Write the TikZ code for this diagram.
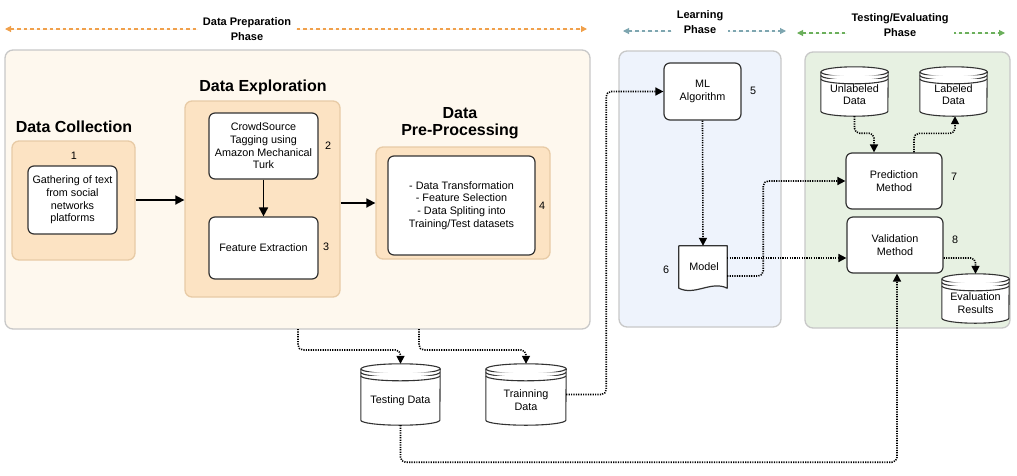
\documentclass[tikz,border=0pt]{standalone}
\usepackage{fontspec}
\setmainfont{Liberation Sans}
\usetikzlibrary{arrows.meta,calc}
\definecolor{prepfill}{HTML}{FEF8EE}
\definecolor{greyb}{HTML}{C8C8C8}
\definecolor{peach}{HTML}{FCE3C3}
\definecolor{peachb}{HTML}{E8CBA6}
\definecolor{learnfill}{HTML}{EEF3FC}
\definecolor{testfill}{HTML}{E7F1E2}
\definecolor{boxb}{HTML}{333333}
\definecolor{phO}{HTML}{F0A04B}
\definecolor{phB}{HTML}{7EA6B0}
\definecolor{phG}{HTML}{6BAF5B}
\newcommand\txtfont{\fontsize{10.8}{12.6}\selectfont}
\newcommand\headfont{\fontsize{16}{17}\selectfont\bfseries}
\newcommand\phasefont{\fontsize{11}{15}\selectfont\bfseries}
\newcommand\dbdraw[3]{%
  \filldraw[dbline] ([yshift=-#3]#1.north west) -- ([yshift=#3]#1.south west)
    arc[start angle=180,end angle=360,x radius=#2,y radius=#3]
    -- ([yshift=-#3]#1.north east)
    arc[start angle=0,end angle=180,x radius=#2,y radius=#3] -- cycle;
  \draw[dbline] ([yshift=-#3]#1.north west) arc[start angle=180,end angle=360,x radius=#2,y radius=#3];
  \draw[dbline] ([yshift=-#3-3.5pt]#1.north west) arc[start angle=180,end angle=360,x radius=#2,y radius=#3];
  \draw[dbline] ([yshift=-#3-7pt]#1.north west) arc[start angle=180,end angle=360,x radius=#2,y radius=#3];
}
\tikzset{
  sz/.style 2 args={minimum width=#1pt, minimum height=#2pt},
  bgbox/.style={draw=greyb, line width=1.3pt, rounded corners=8pt, inner sep=0pt},
  peachbox/.style={draw=peachb, fill=peach, line width=1.3pt, rounded corners=7pt, inner sep=0pt},
  wbox/.style={draw=boxb, fill=white, line width=1.2pt, rounded corners=6pt, align=center, font=\txtfont, inner sep=1pt},
  ghost/.style={inner sep=0pt, draw=none},
  dbline/.style={draw=boxb, fill=white, line width=1.1pt},
  txt/.style={font=\txtfont, align=center, inner sep=1pt},
  head/.style={font=\headfont, align=center, inner sep=1pt},
  phaselbl/.style={font=\phasefont, align=center, fill=white, inner xsep=5pt, inner ysep=1pt},
  phaseline/.style={line width=1.1pt, dash pattern=on 3.5pt off 3pt, {Triangle[width=6pt,length=6pt]}-{Triangle[width=6pt,length=6pt]}},
  solidarrow/.style={line width=1.7pt, -{Triangle[width=9pt,length=9pt]}},
  dotarrow/.style={line width=1.6pt, dash pattern=on 1.2pt off 1.2pt, rounded corners=5pt, -{Triangle[width=8pt,length=8pt]}},
  dotline/.style={line width=1.6pt, dash pattern=on 1.2pt off 1.2pt, rounded corners=5pt},
}
\begin{document}
\begin{tikzpicture}[x=1pt,y=-1pt]
\useasboundingbox (0,0) rectangle (1017,475);

% phase headers
\coordinate (po1) at (5,29); \coordinate (po2) at (587,29);
\coordinate (pb1) at (623,31); \coordinate (pb2) at (786,31);
\coordinate (pg1) at (797,33); \coordinate (pg2) at (1005,33);
\draw[phaseline, draw=phO, fill=phO] (po1) -- (po2);
\draw[phaseline, draw=phB, fill=phB] (pb1) -- (pb2);
\draw[phaseline, draw=phG, fill=phG] (pg1) -- (pg2);
\node[phaselbl] (lprep) at (247,29) {Data Preparation\\Phase};
\node[phaselbl] (llearn) at (700,22.5) {Learning\\Phase};
\node[phaselbl] (ltest) at (900,25.5) {Testing/Evaluating\\Phase};

% background panels
\node[bgbox, fill=prepfill, sz={585}{279}] (prepbg) at (297.5,189.5) {};
\node[bgbox, fill=learnfill, sz={162}{276}] (learnbg) at (700,189) {};
\node[bgbox, fill=testfill, sz={205}{276}] (testbg) at (907.5,190) {};

% Data collection
\node[head] (tcoll) at (74,127) {Data Collection};
\node[peachbox, sz={123}{119}] (dcbox) at (73.5,200.5) {};
\node[txt] (n1) at (74,156) {1};
\node[wbox, sz={89}{68}] (gather) at (72.5,200) {Gathering of text\\from social\\networks\\platforms};

% Data exploration
\node[head] (texpl) at (263,87) {Data Exploration};
\node[peachbox, sz={155}{196}] (debox) at (262.5,199) {};
\node[wbox, sz={109}{66}] (crowd) at (263.5,146) {CrowdSource\\Tagging using\\Amazon Mechanical\\Turk};
\node[txt] (n2) at (328,146) {2};
\node[wbox, sz={109}{62}] (feat) at (263.5,248) {Feature Extraction};
\node[txt] (n3) at (326,247) {3};

% Pre-processing
\node[head] (tpre) at (460,123) {Data\\Pre-Processing};
\node[peachbox, sz={174}{112}] (ppbox) at (463,203) {};
\node[wbox, sz={147}{99}] (ppin) at (461.5,205.5) {- Data Transformation\\- Feature Selection\\- Data Spliting into\\Training/Test datasets};
\node[txt] (n4) at (542,206) {4};

% Learning
\node[wbox, sz={77}{57}] (ml) at (702.5,91.5) {ML\\Algorithm};
\node[txt] (n5) at (753,91) {5};
\node[ghost, sz={48}{46}] (model) at (703,269) {};
\draw[draw=boxb, fill=white, line width=1.2pt, line join=round] (model.north west) -- (model.north east) -- ([yshift=4pt]model.south east)
  .. controls +(-16pt,8pt) and +(16pt,-8pt) .. ([yshift=4pt]model.south west) -- cycle;
\node[txt] (modeltxt) at (704,267) {Model};
\node[txt] (n6) at (666,270) {6};

% Testing / evaluating
\node[ghost, sz={67}{49}] (unl) at (854.5,91.5) {};
\node[ghost, sz={67}{49}] (lab) at (953.5,91.5) {};
\node[ghost, sz={67}{49}] (eval) at (975.5,298.5) {};
\dbdraw{unl}{33.5pt}{5pt}
\dbdraw{lab}{33.5pt}{5pt}
\dbdraw{eval}{33.5pt}{5pt}
\node[txt] (unltxt) at ([yshift=-3pt]unl.center) {Unlabeled\\Data};
\node[txt] (labtxt) at ([yshift=-3pt]lab.center) {Labeled\\Data};
\node[txt] (evaltxt) at ([yshift=-4.5pt]eval.center) {Evaluation\\Results};
\node[wbox, sz={96}{56}] (pred) at (894,181) {Prediction\\Method};
\node[txt] (n7) at (954,177) {7};
\node[wbox, sz={96}{56}] (valid) at (895,245) {Validation\\Method};
\node[txt] (n8) at (955,240) {8};

% data stores
\node[ghost, sz={79}{61}] (test) at (400.5,394.5) {};
\node[ghost, sz={80}{61}] (train) at (526,394.5) {};
\dbdraw{test}{39.5pt}{5pt}
\dbdraw{train}{40pt}{5pt}
\node[txt] (testtxt) at ([yshift=-6pt]test.center) {Testing Data};
\node[txt] (traintxt) at ([yshift=-5.5pt]train.center) {Trainning\\Data};

% solid arrows
\draw[solidarrow] (dcbox.east |- gather.east) -- (debox.west |- gather.east);
\draw[solidarrow] (debox.east |- ppbox.west) -- (ppbox.west);
\draw[solidarrow] (crowd.south) -- (feat.north);

% dotted connectors
\coordinate (t1) at (298,329);
\coordinate (t2) at (419,329);
\draw[dotarrow] (t1) -- ++(0,21) -| (test.north);
\draw[dotarrow] (t2) -- ++(0,21) -| (train.north);
\draw[dotarrow] (train.east) -- ++(40,0) |- (ml.west);
\draw[dotarrow] (ml.south) -- (model.north);
\draw[dotarrow] ([yshift=-7pt]model.east) -- ++(36,0) |- (pred.west);
\draw[dotarrow] ([yshift=11pt]model.east) -- ([yshift=11pt]model.east -| valid.west);
\draw[dotarrow] (unl.south) -- ++(0,17) -| ([xshift=-20pt]pred.north);
\draw[dotarrow] ([xshift=20pt]pred.north) -- ++(0,-19) -| ([xshift=1.5pt]lab.south);
\draw[dotarrow] ([yshift=-13pt]valid.east) -| (eval.north);
\draw[dotarrow] (test.south) -- ++(0,37) -| ([xshift=2pt]valid.south);
\end{tikzpicture}
\end{document}
